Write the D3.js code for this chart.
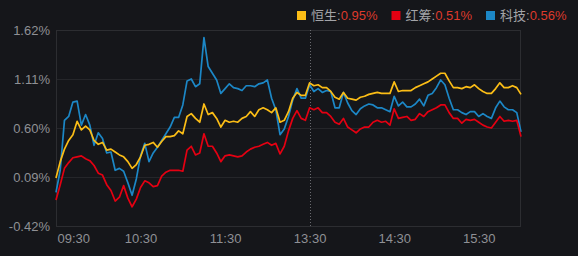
<!DOCTYPE html>
<html>
<head>
<meta charset="utf-8">
<script src="https://cdn.jsdelivr.net/npm/d3@7"></script>
<style>
  html, body { margin: 0; padding: 0; background: #15161a; }
  #chart_area { width: 578px; height: 256px; overflow: hidden; }
  text { font-family: "Liberation Sans", Arial, "Noto Sans CJK SC", sans-serif; }
</style>
</head>
<body>
<div id="chart_area"></div>
<script>
var margin = { top: 30, right: 57, bottom: 30, left: 56 },
    width = 578 - margin.left - margin.right,
    height = 226 - margin.top;

// minutes from 09:30, trading time only (lunch removed), one point every 3 min
var step = 3;
var tickMinutes = [0, 60, 120, 180, 240, 300];
var tickLabels = ["09:30", "10:30", "11:30", "13:30", "14:30", "15:30"];
var yTicks = [-0.42, 0.09, 0.60, 1.11, 1.62];
var markMinute = 180;

var names = ["恒生", "红筹", "科技"];
var colours = ["#fbbd16", "#e50012", "#1c87c6"];

var hengsheng = [
  0.08, 0.25, 0.38, 0.47, 0.53, 0.67, 0.58, 0.62, 0.58, 0.47, 0.43, 0.45, 0.37, 0.38, 0.35, 0.32,
  0.30, 0.25, 0.18, 0.22, 0.30, 0.42, 0.43, 0.45, 0.40, 0.46, 0.51, 0.51, 0.52, 0.57, 0.54, 0.72,
  0.75, 0.70, 0.66, 0.85, 0.74, 0.76, 0.70, 0.61, 0.68, 0.66, 0.67, 0.66, 0.70, 0.72, 0.77, 0.72,
  0.79, 0.81, 0.79, 0.76, 0.81, 0.66, 0.68, 0.77, 0.91, 0.97, 0.94, 0.94, 1.07, 1.04, 1.05, 1.02,
  1.02, 0.98, 0.92, 0.90, 0.97, 0.91, 0.90, 0.89, 0.92, 0.93, 0.95, 0.96, 0.97, 0.96, 0.96, 0.96,
  1.08, 0.98, 0.99, 0.99, 0.99, 1.02, 1.04, 1.06, 1.08, 1.11, 1.14, 1.17, 1.17, 1.09, 1.02, 1.02,
  1.01, 1.03, 1.02, 1.05, 1.01, 0.98, 0.96, 0.96, 1.01, 1.07, 1.02, 1.02, 1.04, 1.02, 0.95
];

var redchip = [
  -0.15, 0.01, 0.18, 0.24, 0.29, 0.30, 0.31, 0.28, 0.26, 0.21, 0.13, 0.11, 0.01, -0.05, -0.16, -0.12,
  0.00, -0.13, -0.22, -0.14, -0.02, 0.05, 0.03, -0.01, 0.00, 0.10, 0.14, 0.16, 0.16, 0.16, 0.15, 0.37,
  0.41, 0.32, 0.34, 0.54, 0.41, 0.41, 0.34, 0.25, 0.31, 0.32, 0.31, 0.30, 0.31, 0.35, 0.38, 0.40,
  0.41, 0.43, 0.45, 0.42, 0.44, 0.33, 0.41, 0.57, 0.70, 0.78, 0.70, 0.68, 0.81, 0.79, 0.81, 0.76,
  0.76, 0.72, 0.66, 0.64, 0.70, 0.61, 0.58, 0.55, 0.59, 0.61, 0.61, 0.66, 0.68, 0.66, 0.67, 0.63,
  0.80, 0.70, 0.71, 0.72, 0.68, 0.69, 0.75, 0.72, 0.77, 0.79, 0.81, 0.84, 0.84, 0.76, 0.70, 0.70,
  0.65, 0.69, 0.68, 0.69, 0.66, 0.63, 0.61, 0.60, 0.66, 0.72, 0.67, 0.68, 0.67, 0.68, 0.51
];

var tech = [
  -0.07, 0.16, 0.68, 0.72, 0.87, 0.88, 0.63, 0.74, 0.63, 0.42, 0.55, 0.49, 0.34, 0.35, 0.16, 0.18,
  0.15, 0.03, -0.10, 0.07, 0.31, 0.44, 0.25, 0.34, 0.40, 0.47, 0.54, 0.61, 0.71, 0.71, 0.84, 1.09,
  1.11, 1.03, 1.06, 1.54, 1.24, 1.17, 1.10, 0.96, 1.01, 1.06, 1.02, 1.01, 0.99, 1.04, 1.04, 1.03,
  1.06, 1.07, 1.10, 0.91, 0.79, 0.53, 0.59, 0.72, 0.89, 1.01, 0.91, 0.91, 1.05, 0.98, 1.01, 0.97,
  0.99, 0.98, 0.81, 0.81, 0.97, 0.86, 0.78, 0.74, 0.80, 0.83, 0.85, 0.84, 0.81, 0.81, 0.79, 0.77,
  0.93, 0.83, 0.87, 0.82, 0.82, 0.85, 0.90, 0.83, 0.94, 0.96, 1.02, 1.10, 1.05, 0.91, 0.79, 0.79,
  0.76, 0.74, 0.77, 0.77, 0.72, 0.75, 0.72, 0.70, 0.81, 0.88, 0.82, 0.79, 0.79, 0.76, 0.56
];

var series = [hengsheng, redchip, tech];
var drawOrder = [2, 1, 0];

var svg = d3.select("#chart_area")
    .append("svg")
    .attr("width", 578)
    .attr("height", 256);

var g = svg.append("g")
    .attr("transform", "translate(" + margin.left + "," + margin.top + ")");

var x = d3.scaleLinear()
    .domain([0, 330])
    .range([0, width]);

var y = d3.scaleLinear()
    .domain([-0.42, 1.62])
    .range([height, 0]);

// horizontal grid
g.append("g")
    .selectAll("line")
    .data(yTicks)
    .enter()
    .append("line")
    .attr("x1", 0)
    .attr("x2", width)
    .attr("y1", function (d) { return Math.round(y(d)) + 0.5; })
    .attr("y2", function (d) { return Math.round(y(d)) + 0.5; })
    .attr("stroke", "#25262a");

// frame
g.append("rect")
    .attr("x", 0.5)
    .attr("y", 0.5)
    .attr("width", width - 1)
    .attr("height", height)
    .attr("fill", "none")
    .attr("stroke", "#2c2d31");

// y axis labels
var yAxis = g.append("g")
    .call(d3.axisLeft(y).tickValues(yTicks).tickSize(0).tickPadding(6)
        .tickFormat(function (d) { return d.toFixed(2) + "%"; }));
yAxis.select(".domain").remove();
yAxis.selectAll("text")
    .attr("fill", "#8f9095")
    .style("font-size", "13px");

// x axis labels
var xAxis = g.append("g")
    .attr("transform", "translate(0," + height + ")")
    .call(d3.axisBottom(x).tickValues(tickMinutes).tickSize(0).tickPadding(8)
        .tickFormat(function (d, i) { return tickLabels[i]; }));
xAxis.select(".domain").remove();
xAxis.selectAll("text")
    .attr("fill", "#8f9095")
    .style("font-size", "13px")
    .style("text-anchor", function (d, i) { return i == 0 ? "start" : "middle"; })
    .attr("dx", function (d, i) { return i == 0 ? 1 : 0; });

// afternoon marker
g.append("line")
    .attr("x1", Math.round(x(markMinute)) + 0.5)
    .attr("x2", Math.round(x(markMinute)) + 0.5)
    .attr("y1", 0)
    .attr("y2", height)
    .attr("stroke", "#6a6b70")
    .attr("stroke-dasharray", "1,2");

// lines
var line = d3.line()
    .x(function (d, i) { return x(i * step); })
    .y(function (d) { return y(d); });

g.selectAll(".series")
    .data(drawOrder)
    .enter()
    .append("path")
    .attr("class", "series")
    .attr("d", function (k) { return line(series[k]); })
    .attr("fill", "none")
    .attr("stroke", function (k) { return colours[k]; })
    .attr("stroke-width", 1.7)
    .attr("stroke-linejoin", "round");

// legend
var legend = svg.append("g");
var lx = 297;
names.forEach(function (name, i) {
    var last = series[i][series[i].length - 1];
    legend.append("rect")
        .attr("x", lx)
        .attr("y", 11)
        .attr("width", 9)
        .attr("height", 9)
        .attr("fill", colours[i]);
    var t = legend.append("text")
        .attr("x", lx + 14)
        .attr("y", 20)
        .style("font-size", "13px");
    t.append("tspan").attr("fill", "#a3a4a8").text(name + ":");
    t.append("tspan").attr("fill", "#dd3a2c").text(last.toFixed(2) + "%");
    lx += 14 + t.node().getComputedTextLength() + 14;
});
</script>
</body>
</html>
